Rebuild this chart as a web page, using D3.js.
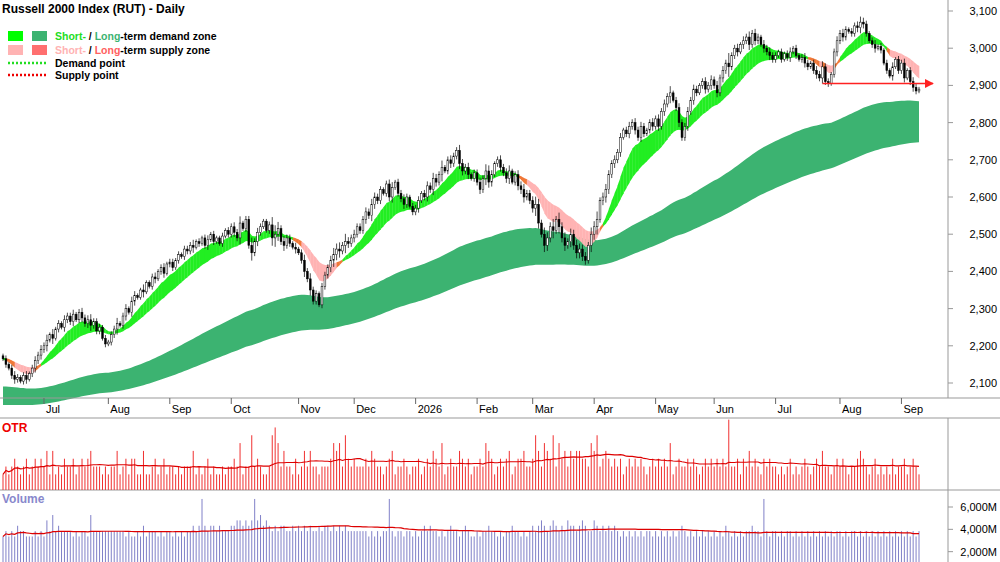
<!DOCTYPE html>
<html><head><meta charset="utf-8">
<script src="https://cdn.jsdelivr.net/npm/d3@7"></script>
<style>body{margin:0;background:#fff}svg{font-family:"Liberation Sans",Arial,sans-serif}</style>
</head><body><svg id="c" width="1000" height="562"></svg>
<script>
// ---- data ----
const closes = [
2165,2150,2140,2120,2110,2115,2105,2120,2110,2125,2140,2160,2175,2190,
2200,2215,2230,2220,2245,2260,2250,2270,2280,2265,2285,2270,2290,2275,2260,2270,2255,2265,2240,2250,2220,2205,
2210,2230,2245,2260,2255,2280,2300,2290,2320,2335,2330,2350,2345,2370,2360,2385,2380,2400,2410,2395,2420,
2425,2410,2430,2445,2440,2460,2455,2470,2465,2480,2475,2490,2470,2485,2500,2480,2490,2475,2495,2510,2500,
2520,2505,2490,2530,2515,2540,2470,2450,2480,2505,2520,2535,2510,2525,2490,2500,2515,2480,2470,2490,2475,2465,2460,
2450,2430,2400,2380,2350,2320,2340,2310,2360,2390,2410,2430,2445,2460,2455,2470,2480,2475,2490,
2500,2520,2510,2540,2560,2550,2580,2600,2590,2620,2610,2635,2600,2625,2640,2610,2595,2580,2600,2575,2560,
2570,2590,2610,2600,2630,2620,2650,2640,2660,2680,2670,2700,2690,2710,2725,2690,2670,2680,2660,2650,2665,
2640,2620,2650,2670,2640,2660,2690,2700,2680,2665,2650,2670,2640,2660,2630,2620,2600,2610,2590,
2570,2580,2530,2500,2470,2490,2520,2510,2540,2520,2490,2470,2480,2500,2470,2450,2460,2440,2430,2470,2500,
2520,2540,2590,2600,2620,2660,2690,2700,2720,2760,2780,2770,2790,2800,2780,2760,2790,2770,2780,2800,2790,
2810,2790,2830,2850,2870,2880,2860,2840,2800,2760,2790,2830,2860,2890,2880,2900,2910,2890,2900,2915,
2900,2880,2920,2940,2960,2950,2980,3000,2990,3010,3020,3030,3010,3040,3020,3030,3010,3000,2990,2980,2970,
2980,2990,2970,2985,2975,2990,3000,2980,2970,2975,2960,2950,2960,2940,2930,2920,2950,2910,2905,2930,2990,3020,
3040,3030,3050,3045,3040,3060,3055,3070,3065,3040,3020,3010,3000,3005,2995,2960,2940,2925,2950,2970,2940,
2960,2920,2940,2910,2895,2885,2890];
const otrLevels = ("23234323423434"+"3525232433423434533323"+"233523424422522342342"+"332323335232342322323"+
"34362337343223786353324"+"2353533233346563743"+"433343543323452334323"+"342343543623433543423"+
"3436542343452344533"+"475365473645354554436"+"573454343423434343234"+"34343623433434323434"+
"343439334243534324343"+"3232342323432343533234"+"343233454323423232423"+"3423432").split("").map(Number);
const volLevels = ("23232433222323"+"2536343333232332633333"+"333333232232423332323"+"323232334349434434333"+
"44554545956454343443343"+"4343433434434343433"+"333332323233932332332"+"323434332323433234322"+
"3233433232334332323"+"434543454343544345433"+"543434343232323232332"+"32323232343232323232"+
"323243232323343329323"+"3232332323232323232323"+"323233232323232323232"+"3232323").split("").map(Number);
const volume = volLevels.map(d=>2400+d*480);
const monthStarts = [14,36,57,78,101,120,141,162,181,202,223,243,264,286,307];
const monthLabels = ["Jul","Aug","Sep","Oct","Nov","Dec","2026","Feb","Mar","Apr","May","Jun","Jul","Aug","Sep"];
const priceTicks = [2100,2200,2300,2400,2500,2600,2700,2800,2900,3000,3100];
const volTicks = [2000,4000,6000];
const supplyLevel = 2905;

const svg = d3.select("#c");
const n = closes.length;
const x = d3.scaleLinear().domain([0,n-1]).range([3,919]);
const y = d3.scaleLinear().domain([2100,3100]).range([383,11]);
const yO = d3.scaleLinear().domain([0,10]).range([490,422]);
const yV = d3.scaleLinear().domain([0,6000]).range([574,507]);

function ema(arr,p,seed){const k=2/(p+1);let e=seed;return arr.map(v=>e=v*k+e*(1-k));}
const eF=ema(closes,10,closes[0]), eS=ema(closes,22,closes[0]);
const lF=ema(closes,90,2150).map(v=>v-60), lS=ema(closes,160,2120).map(v=>v-80);

const lt = svg.append("g");
lt.append("path").datum(d3.range(n))
 .attr("d",d3.area().x(i=>x(i)).y0(i=>y(Math.min(lF[i],lS[i]))).y1(i=>y(Math.max(lF[i],lS[i]))))
 .attr("fill","#3cb371");
const st = svg.append("g");
for(let i=0;i<n-1;i++){
  const up = eF[i]>=eS[i];
  const diff = eS[i]-eF[i];
  const col = up? "#22ee22" : (diff<10 ? "#f07838" : "#ffb3b3");
  const a=x(i),b=x(i+1)+0.3;
  const t1=y(Math.max(eF[i],eS[i])),b1=y(Math.min(eF[i],eS[i]));
  const t2=y(Math.max(eF[i+1],eS[i+1])),b2=y(Math.min(eF[i+1],eS[i+1]));
  st.append("path").attr("d",`M${a},${t1-1}L${b},${t2-1}L${b},${b2+1}L${a},${b1+1}Z`).attr("fill",col);
}
const cg = svg.append("g");
closes.forEach((c,i)=>{
  const o = i? closes[i-1] : c+8;
  const r = otrLevels[i]*3;
  const hi=Math.max(o,c)+r, lo=Math.min(o,c)-r;
  const xc=x(i);
  cg.append("line").attr("x1",xc).attr("x2",xc).attr("y1",y(hi)).attr("y2",y(lo)).attr("stroke","#000").attr("stroke-width",0.7);
  const top=y(Math.max(o,c)), h=Math.max(1,y(Math.min(o,c))-top);
  cg.append("rect").attr("x",xc-0.9).attr("y",top).attr("width",1.8).attr("height",h)
    .attr("fill",c>=o?"#fff":"#000").attr("stroke","#000").attr("stroke-width",0.5);
});
svg.append("defs").append("marker").attr("id","ar").attr("viewBox","0 0 10 10").attr("refX",9).attr("refY",5)
 .attr("markerWidth",6).attr("markerHeight",6).attr("orient","auto").append("path").attr("d","M0,0L10,5L0,10Z").attr("fill","#f22");
svg.append("line").attr("x1",x(280)).attr("x2",x(n-1)+14).attr("y1",y(supplyLevel)).attr("y2",y(supplyLevel))
 .attr("stroke","#f22").attr("stroke-width",1.5).attr("marker-end","url(#ar)");

svg.append("line").attr("x1",948).attr("x2",948).attr("y1",0).attr("y2",398).attr("stroke","#999");
priceTicks.forEach(t=>{
  svg.append("line").attr("x1",948).attr("x2",953).attr("y1",y(t)).attr("y2",y(t)).attr("stroke","#999");
  svg.append("text").attr("x",997).attr("y",y(t)+4).attr("text-anchor","end").attr("font-size",11).text(d3.format(",")(t));
});
[398,418,490].forEach(v=>svg.append("line").attr("x1",0).attr("x2",1000).attr("y1",v).attr("y2",v).attr("stroke","#999"));
svg.append("line").attr("x1",948).attr("x2",948).attr("y1",418).attr("y2",562).attr("stroke","#999");
monthStarts.forEach((m,k)=>{
  svg.append("line").attr("x1",x(m)).attr("x2",x(m)).attr("y1",398).attr("y2",404).attr("stroke","#666");
  svg.append("text").attr("x",x(m)+2).attr("y",413).attr("font-size",11).text(monthLabels[k]);
});
const og=svg.append("g");
otrLevels.forEach((v,i)=>og.append("line").attr("x1",x(i)).attr("x2",x(i)).attr("y1",yO(0)).attr("y2",yO(v*1.15)).attr("stroke","#f03030").attr("stroke-width",1));
const otrMA=otrLevels.map((v,i)=>d3.mean(otrLevels.slice(Math.max(0,i-30),i+1))*1.15);
og.append("path").datum(otrMA).attr("d",d3.line().x((d,i)=>x(i)).y(d=>yO(d))).attr("fill","none").attr("stroke","#d00").attr("stroke-width",1.2);
svg.append("text").attr("x",2).attr("y",432).attr("font-size",12).attr("font-weight","bold").attr("fill","#e00").text("OTR");
const vg=svg.append("g");
volume.forEach((v,i)=>vg.append("line").attr("x1",x(i)).attr("x2",x(i)).attr("y1",562).attr("y2",yV(v)).attr("stroke","#8080c8").attr("stroke-width",1));
const vMA=volume.map((v,i)=>d3.mean(volume.slice(Math.max(0,i-50),i+1)));
vg.append("path").datum(vMA).attr("d",d3.line().x((d,i)=>x(i)).y(d=>yV(d))).attr("fill","none").attr("stroke","#d00").attr("stroke-width",1.2);
svg.append("text").attr("x",2).attr("y",503).attr("font-size",12).attr("font-weight","bold").attr("fill","#8888cc").text("Volume");
volTicks.forEach(t=>{
  svg.append("line").attr("x1",948).attr("x2",953).attr("y1",yV(t)).attr("y2",yV(t)).attr("stroke","#999");
  svg.append("text").attr("x",997).attr("y",yV(t)+4).attr("text-anchor","end").attr("font-size",11).text(d3.format(",")(t)+"M");
});
svg.append("text").attr("x",2).attr("y",13).attr("font-size",12).attr("font-weight","bold").text("Russell 2000 Index (RUT) - Daily");
const lg=svg.append("g").attr("font-size",10.5).attr("font-weight","bold");
[["#00ff00","#3cb371",31],["#ffb3b3","#ff6f6f",45]].forEach(([a,b,yy])=>{
  lg.append("rect").attr("x",8).attr("y",yy).attr("width",15).attr("height",10).attr("fill",a);
  lg.append("rect").attr("x",32).attr("y",yy).attr("width",15).attr("height",10).attr("fill",b);
});
const t1=lg.append("text").attr("x",55).attr("y",40);
t1.append("tspan").attr("fill","#22dd22").text("Short-");t1.append("tspan").text(" / ");
t1.append("tspan").attr("fill","#3cb371").text("Long");t1.append("tspan").text("-term demand zone");
const t2=lg.append("text").attr("x",55).attr("y",54);
t2.append("tspan").attr("fill","#ffb3b3").text("Short-");t2.append("tspan").text(" / ");
t2.append("tspan").attr("fill","#ff6060").text("Long");t2.append("tspan").text("-term supply zone");
lg.append("line").attr("x1",8).attr("x2",47).attr("y1",63).attr("y2",63).attr("stroke","#22dd22").attr("stroke-width",2.5).attr("stroke-dasharray","2,2");
lg.append("text").attr("x",55).attr("y",67).text("Demand point");
lg.append("line").attr("x1",8).attr("x2",47).attr("y1",75).attr("y2",75).attr("stroke","#e00").attr("stroke-width",2.5).attr("stroke-dasharray","2,2");
lg.append("text").attr("x",55).attr("y",79).text("Supply point");
</script></body></html>
